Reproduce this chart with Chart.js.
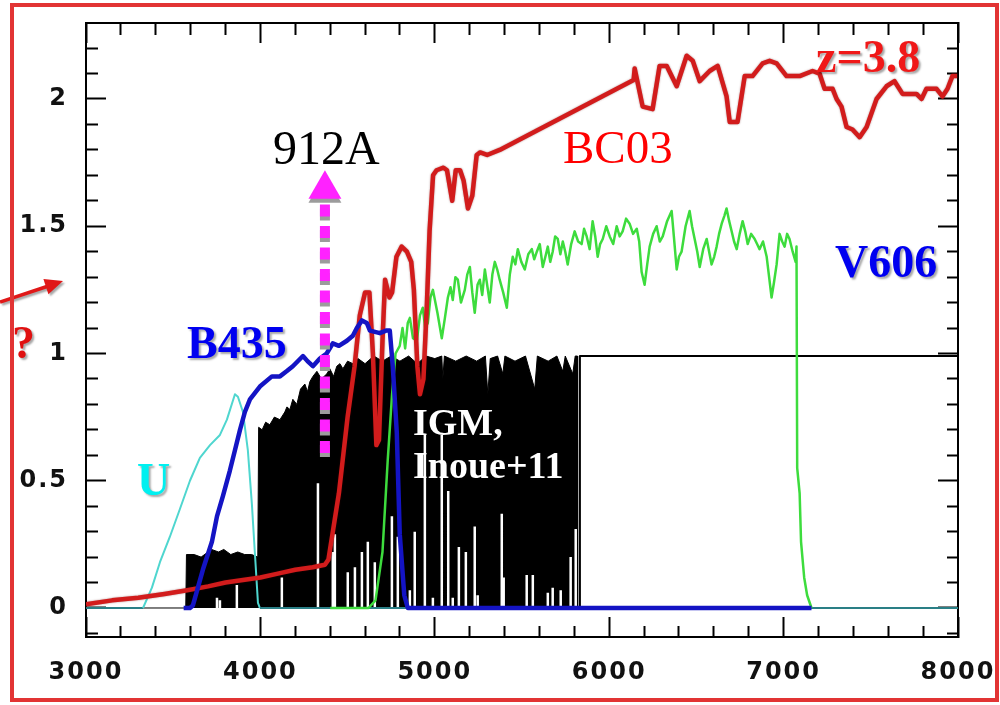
<!DOCTYPE html>
<html><head><meta charset="utf-8">
<script src="https://cdn.jsdelivr.net/npm/chart.js@4"></script>
<style>html,body{margin:0;padding:0;background:#fff;}canvas{display:block}</style>
</head><body>
<canvas id="c" width="1000" height="705"></canvas>
<script>
// ---------- data (wavelength in Angstrom, normalised flux / transmission) ----------
const xTicksMajor = [3000, 4000, 5000, 6000, 7000, 8000];
const yTicksMajor = [0, 0.5, 1, 1.5, 2];

// BC03 model spectrum (red)
const bc03X = [3000,3150,3300,3450,3580,3700,3800,3900,4000,4100,4200,4300,4370,4390,4450,4500,4540,4570,4600,4625,4645,4665,4680,4700,4715,4740,4755,4780,4810,4840,4865,4880,4900,4915,4935,4955,4970,4990,5010,5050,5070,5100,5120,5145,5165,5190,5215,5240,5260,5300,5372,6140,6146,6192,6249,6289,6330,6387,6444,6479,6519,6576,6622,6673,6691,6736,6777,6822,6880,6920,6960,7017,7092,7166,7206,7235,7281,7304,7332,7361,7395,7436,7476,7533,7590,7636,7682,7762,7791,7819,7877,7911,7940,7968,7995];
const bc03Y = [0.015,0.03,0.04,0.055,0.07,0.085,0.10,0.11,0.12,0.135,0.15,0.16,0.17,0.19,0.45,0.75,0.95,1.15,1.24,1.24,1.0,0.64,0.66,1.05,1.29,1.22,1.24,1.38,1.42,1.40,1.36,1.25,0.95,0.84,0.90,1.20,1.48,1.70,1.72,1.73,1.72,1.60,1.72,1.72,1.68,1.57,1.62,1.78,1.79,1.78,1.80,2.075,2.12,1.97,1.96,2.13,2.13,2.05,2.17,2.15,2.07,2.11,2.13,2.01,1.91,1.91,2.09,2.09,2.14,2.15,2.14,2.09,2.09,2.11,2.10,2.04,2.04,2.00,1.97,1.89,1.88,1.85,1.89,2.00,2.05,2.07,2.02,2.02,2.00,2.04,2.04,2.01,2.04,2.09,2.09];

// ACS V606 filter (green)
const v606X = [4400,4620,4660,4700,4730,4755,4775,4799,4815,4830,4845,4857,4875,4897,4915,4931,4945,4960,4975,4989,5015,5040,5058,5075,5090,5103,5118,5132,5150,5172,5186,5201,5215,5229,5245,5258,5272,5287,5300,5315,5330,5344,5358,5372,5392,5413,5430,5447,5462,5476,5496,5516,5536,5556,5570,5585,5602,5619,5634,5648,5662,5676,5690,5705,5720,5734,5748,5762,5782,5802,5822,5842,5856,5871,5888,5905,5920,5934,5948,5963,5983,6003,6023,6043,6060,6077,6097,6117,6137,6158,6172,6186,6203,6218,6232,6252,6272,6290,6307,6332,6358,6372,6387,6400,6415,6438,6461,6475,6490,6505,6519,6539,6559,6573,6587,6602,6616,6630,6645,6660,6673,6688,6702,6716,6731,6748,6765,6780,6794,6814,6834,6848,6862,6882,6903,6917,6931,6945,6960,6977,6992,7006,7020,7034,7052,7069,7074,7078,7092,7100,7118,7135,7160];
const v606Y = [0,0,0.03,0.22,0.58,0.84,1.0,1.03,1.10,1.02,1.12,1.14,1.06,1.05,1.15,1.18,1.10,1.12,1.22,1.25,1.16,1.06,1.14,1.22,1.26,1.21,1.30,1.29,1.20,1.25,1.31,1.34,1.24,1.16,1.27,1.29,1.23,1.33,1.27,1.20,1.31,1.36,1.33,1.29,1.24,1.18,1.31,1.38,1.35,1.41,1.36,1.33,1.39,1.41,1.37,1.40,1.43,1.34,1.38,1.42,1.36,1.40,1.46,1.45,1.39,1.44,1.40,1.35,1.43,1.48,1.44,1.43,1.49,1.46,1.41,1.52,1.46,1.38,1.43,1.45,1.50,1.46,1.43,1.50,1.46,1.48,1.53,1.51,1.47,1.49,1.44,1.32,1.27,1.35,1.42,1.47,1.50,1.44,1.46,1.52,1.56,1.45,1.33,1.38,1.40,1.50,1.56,1.50,1.45,1.40,1.34,1.41,1.45,1.40,1.35,1.38,1.42,1.47,1.51,1.54,1.57,1.52,1.48,1.44,1.41,1.47,1.52,1.48,1.43,1.47,1.45,1.43,1.41,1.44,1.38,1.30,1.22,1.28,1.35,1.47,1.44,1.42,1.47,1.45,1.40,1.36,1.42,0.55,0.45,0.26,0.12,0.05,0];

// ACS B435 filter (blue)
const b435X = [3560,3596,3613,3670,3722,3751,3785,3825,3854,3883,3911,3940,3997,4066,4112,4150,4186,4244,4270,4301,4341,4380,4415,4450,4496,4530,4553,4582,4610,4628,4685,4720,4742,4759,4782,4799,4825,4845,7160];
const b435Y = [0,0,0.01,0.15,0.26,0.36,0.44,0.54,0.62,0.70,0.77,0.82,0.87,0.91,0.91,0.93,0.95,0.99,0.97,0.95,0.98,1.0,1.04,1.03,1.05,1.07,1.10,1.13,1.12,1.09,1.08,1.09,1.09,0.95,0.69,0.29,0.05,0,0];

// U filter (cyan)
const uX = [3000,3327,3378,3424,3481,3539,3596,3653,3711,3768,3808,3854,3871,3900,3928,3951,3968,3986,3997,8000];
const uY = [0,0,0.08,0.18,0.28,0.39,0.50,0.59,0.64,0.68,0.74,0.84,0.83,0.77,0.62,0.41,0.22,0.02,0,0];

// IGM transmission, Inoue+11 (black): envelope of the dense absorption forest
const igmX = [3000,3572,3576,3620,3660,3700,3720,3760,3790,3830,3870,3910,3950,3985,3990,4010,4030,4054,4080,4112,4140,4152,4169,4186,4209,4230,4255,4270,4284,4301,4324,4350,4381,4398,4420,4438,4456,4473,4500,4530,4560,4600,4650,4700,4750,4800,4850,4900,4950,5000,5040,5046,5055,5120,5180,5240,5290,5304,5318,5360,5390,5402,5460,5520,5573,5588,5650,5700,5734,5748,5791,5805,5818,5819];
const igmY = [0,0,0.21,0.21,0.20,0.22,0.23,0.22,0.23,0.21,0.22,0.21,0.21,0.20,0.71,0.70,0.73,0.72,0.75,0.74,0.77,0.79,0.78,0.82,0.80,0.86,0.88,0.85,0.89,0.91,0.93,0.90,0.92,0.94,0.91,0.95,0.96,0.94,0.97,0.96,0.98,0.96,0.99,0.97,0.99,0.97,0.99,0.96,0.99,0.98,0.99,0.90,0.99,0.97,0.99,0.97,0.99,0.84,0.98,0.99,0.92,0.99,0.97,0.99,0.86,0.99,0.97,0.99,0.93,0.99,0.92,0.99,0.99,0];
// IGM transmission beyond the forest (thin line)
const igmTailX = [5832,5832,8000];
const igmTailY = [0,0.99,0.99];
// transmission windows inside the forest (white gaps): position and height
const gapX = [3751,3768,3865,4123,4330,4415,4427,4501,4542,4582,4616,4656,4754,4788,4857,4885,4943,4989,5040,5077,5103,5138,5178,5229,5246,5384,5395,5527,5562,5648,5676,5722,5779,5808];
const gapY = [0.04,0.03,0.09,0.12,0.49,0.22,0.29,0.14,0.16,0.22,0.26,0.18,0.36,0.28,0.07,0.30,0.68,0.04,0.68,0.46,0.04,0.24,0.22,0.32,0.05,0.37,0.12,0.13,0.13,0.06,0.08,0.07,0.20,0.31];

// 912A Lyman limit marker (magenta arrow)
const lymanX = [4370, 4370];
const lymanY = [1.585, 0.59];
const lymanHeadY = 1.645;

// ---------- helpers ----------
const pts = (xs, ys) => xs.map((x, i) => ({x: x, y: ys[i]}));
const gapPts = [];
gapX.forEach((x, i) => { gapPts.push({x: x, y: 0}, {x: x, y: gapY[i]}, {x: x, y: null}); });

const isMajorX = v => Math.abs(v / 1000 - Math.round(v / 1000)) < 1e-6;
const isMajorY = v => Math.abs(v * 2 - Math.round(v * 2)) < 1e-6;

function axis(pos, min, max, step, isMajor, labeled, labelFn, pad) {
  const horiz = pos === 'top' || pos === 'bottom';
  const fromBorder = pos === 'bottom' || pos === 'right';
  return {
    type: 'linear', position: pos, min: min, max: max,
    weight: labeled ? 1 : 0,
    afterFit(s) {
      if (horiz) s.height = labeled ? 68 : 0; else s.width = labeled ? 86 : 0;
      s.paddingTop = 0; s.paddingBottom = 0; s.paddingLeft = 0; s.paddingRight = 0;
    },
    border: {display: true, color: '#000', width: 2},
    grid: {
      drawOnChartArea: false, drawTicks: true, tickLength: -20, tickWidth: 2, tickColor: '#000',
      tickBorderDash: c => (c.tick && !isMajor(c.tick.value)) ? (fromBorder ? [12, 60] : [0, 8, 12, 60]) : []
    },
    ticks: {
      display: labeled, stepSize: step, includeBounds: false, autoSkip: false, maxRotation: 0, minRotation: 0,
      padding: pad, color: '#111',
      font: {family: 'DejaVu Sans', size: 24, weight: 'bold'},
      callback: v => (isMajor(v) ? labelFn(v) : '')
    }
  };
}

const decor = {
  id: 'decor',
  beforeDraw(chart) {
    const ctx = chart.ctx;
    ctx.save(); ctx.fillStyle = '#fff'; ctx.fillRect(0, 0, chart.width, chart.height); ctx.restore();
    ctx.letterSpacing = '2px';
  },
  beforeDatasetDraw(chart, args) {
    const ctx = chart.ctx; const ds = chart.data.datasets[args.index];
    ctx.save();
    if (ds.shadow) {
      ctx.shadowColor = ds.shadow[0]; ctx.shadowOffsetX = ds.shadow[1]; ctx.shadowOffsetY = ds.shadow[2]; ctx.shadowBlur = ds.shadow[3];
    }
  },
  afterDatasetDraw(chart) { chart.ctx.restore(); },
  afterDraw(chart) {
    const ctx = chart.ctx;
    ctx.save();
    ctx.letterSpacing = '0px';
    ctx.textBaseline = 'alphabetic'; ctx.textAlign = 'left';
    const t = (s, x, y, font, color, sh) => {
      ctx.save();
      ctx.font = font; ctx.fillStyle = color;
      if (sh) { ctx.shadowColor = 'rgba(0,0,0,0.35)'; ctx.shadowOffsetX = 2; ctx.shadowOffsetY = 2; ctx.shadowBlur = 2; }
      ctx.fillText(s, x, y);
      ctx.restore();
    };
    const serif = '"Liberation Serif", "Times New Roman", serif';
    t('912A', 273, 164, '48px ' + serif, '#000', false);
    t('BC03', 563, 163, '47px ' + serif, '#f00', false);
    t('z=3.8', 816, 72, 'bold 46px ' + serif, '#f01818', true);
    t('V606', 835, 277, 'bold 46px ' + serif, '#0000f0', true);
    t('B435', 187, 358, 'bold 46px ' + serif, '#0000f0', true);
    t('U', 137, 495, 'bold 46px ' + serif, '#00f0f0', true);
    t('IGM,', 413, 435, 'bold 38px ' + serif, '#fff', false);
    t('Inoue+11', 413, 478, 'bold 38px ' + serif, '#fff', false);
    t('?', 12, 358, 'bold 46px ' + serif, '#e01010', true);
    // red pointer arrow on the left
    ctx.save();
    ctx.shadowColor = 'rgba(0,0,0,0.35)'; ctx.shadowOffsetX = 2; ctx.shadowOffsetY = 2; ctx.shadowBlur = 2;
    ctx.strokeStyle = '#e01818'; ctx.fillStyle = '#e01818'; ctx.lineWidth = 3.5;
    ctx.beginPath(); ctx.moveTo(0, 302); ctx.lineTo(50, 285.5); ctx.stroke();
    ctx.beginPath(); ctx.moveTo(63, 281); ctx.lineTo(48.4, 294.3); ctx.lineTo(43.4, 279.1); ctx.closePath(); ctx.fill();
    ctx.restore();
    // red frame
    ctx.strokeStyle = '#e23434'; ctx.lineWidth = 4;
    ctx.strokeRect(12, 5, 985, 695);
    ctx.restore();
  }
};

const line = (extra) => Object.assign({pointRadius: 0, tension: 0, fill: false, borderJoinStyle: 'round'}, extra);

new Chart(document.getElementById('c'), {
  type: 'line',
  data: {
    datasets: [
      line({label: '912A head', data: [{x: lymanX[0], y: lymanHeadY}], showLine: false, pointRadius: 19, pointStyle: 'triangle',
        pointBackgroundColor: '#ff22ff', pointBorderColor: '#ff22ff', pointBorderWidth: 0, order: 0, shadow: ['#9c9c9c', 0, 4, 0]}),
      line({label: '912A', data: pts(lymanX, lymanY), borderColor: '#ff22ff', borderWidth: 10, borderCapStyle: 'butt',
        borderDash: [12, 9.5], order: 1, shadow: ['#9c9c9c', 0, 4, 0]}),
      line({label: 'B435', data: pts(b435X, b435Y), borderColor: '#1414c4', borderWidth: 4.5, order: 2}),
      line({label: 'BC03', data: pts(bc03X, bc03Y), borderColor: '#d21c1c', borderWidth: 4.5, order: 3, shadow: ['rgba(90,0,0,0.45)', 0, 0, 2]}),
      line({label: 'V606', data: pts(v606X, v606Y), borderColor: '#3ddc3d', borderWidth: 2.5, order: 4}),
      line({label: 'U', data: pts(uX, uY), borderColor: '#2f9a9a', borderWidth: 2, order: 5,
        segment: {borderColor: s => (s.p1.parsed.y > 0.001 || s.p0.parsed.y > 0.001) ? '#4fd6cf' : '#2a7f86'}}),
      line({label: 'IGM gaps', data: gapPts, borderColor: '#fff', borderWidth: 2.5, spanGaps: false, order: 6}),
      line({label: 'IGM tail', data: pts(igmTailX, igmTailY), borderColor: '#000', borderWidth: 2, order: 7}),
      line({label: 'IGM', data: pts(igmX, igmY), borderColor: '#000', borderWidth: 1, backgroundColor: '#000', fill: 'origin', order: 8})
    ]
  },
  options: {
    responsive: false, animation: false, devicePixelRatio: 1,
    layout: {padding: {left: 0, right: 42, top: 23, bottom: 0}},
    plugins: {legend: {display: false}, tooltip: {enabled: false}},
    scales: {
      x: axis('bottom', 3000, 8000, 200, isMajorX, true, v => String(Math.round(v)), 41),
      x2: axis('top', 3000, 8000, 200, isMajorX, false, v => '', 0),
      y: axis('left', -0.114, 2.2986, 0.1, isMajorY, true, v => String(Math.round(v * 10) / 10), 38),
      y2: axis('right', -0.114, 2.2986, 0.1, isMajorY, false, v => '', 0)
    }
  },
  plugins: [decor]
});
</script>
</body></html>
